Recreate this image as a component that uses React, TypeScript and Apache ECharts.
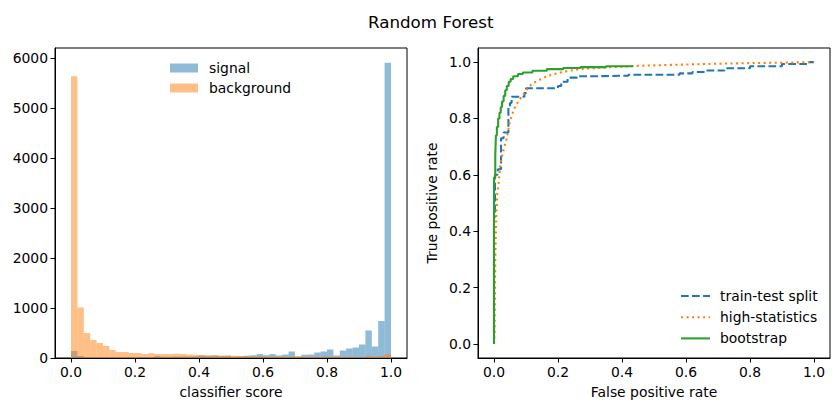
import React, { useEffect, useRef } from 'react';
import * as echarts from 'echarts';

const FONT = '"DejaVu Sans", sans-serif';

// histogram: 50 bins on [0, 1]
const binCount = 50;
const binEdges = Array.from({ length: binCount + 1 }, (_, i) => i / binCount);
const signalCounts = [
  140, 40, 20, 15, 15, 15, 15, 15, 15, 20,
  20, 20, 20, 40, 25, 25, 30, 30, 30, 35,
  50, 40, 50, 40, 45, 30, 35, 45, 55, 80,
  55, 80, 50, 70, 130, 30, 65, 70, 110, 130,
  170, 50, 150, 190, 210, 270, 550, 230, 740, 5900,
];
const backgroundCounts = [
  5630, 1010, 500, 360, 300, 240, 160, 120, 120, 100,
  100, 80, 95, 80, 80, 80, 85, 80, 70, 65,
  60, 55, 55, 50, 50, 45, 40, 40, 35, 35,
  30, 30, 30, 30, 30, 35, 25, 25, 25, 30,
  25, 25, 25, 25, 25, 20, 45, 25, 40, 80,
];
const countTicks = [0, 1000, 2000, 3000, 4000, 5000, 6000];
const unitTicks = [0, 0.2, 0.4, 0.6, 0.8, 1.0];

// ROC curves
const trainTestFpr = [0, 0, 0.003, 0.003, 0.012, 0.012, 0.022, 0.022, 0.03, 0.03, 0.045, 0.045, 0.05, 0.05, 0.055, 0.055, 0.095, 0.095, 0.1, 0.1, 0.2, 0.2, 0.21, 0.21, 0.23, 0.23, 0.26, 0.26, 0.33, 0.33, 0.42, 0.42, 0.58, 0.58, 0.62, 0.62, 0.66, 0.66, 0.72, 0.72, 0.8, 0.8, 0.9, 0.9, 0.98, 0.98, 1.0];
const trainTestTpr = [0, 0.45, 0.45, 0.6, 0.6, 0.62, 0.62, 0.73, 0.73, 0.75, 0.75, 0.84, 0.84, 0.855, 0.855, 0.877, 0.877, 0.89, 0.89, 0.907, 0.907, 0.915, 0.915, 0.93, 0.93, 0.945, 0.945, 0.95, 0.95, 0.952, 0.952, 0.955, 0.955, 0.96, 0.96, 0.965, 0.965, 0.97, 0.97, 0.978, 0.978, 0.985, 0.985, 0.993, 0.993, 1.0, 1.0];

const highStatsFpr = [0, 0.002, 0.004, 0.007, 0.01, 0.017, 0.02, 0.03, 0.04, 0.05, 0.06, 0.07, 0.09, 0.11, 0.13, 0.165, 0.217, 0.27, 0.35, 0.43, 0.55, 0.73, 0.9, 1.0];
const highStatsTpr = [0, 0.05, 0.3, 0.45, 0.53, 0.6, 0.64, 0.69, 0.73, 0.79, 0.825, 0.85, 0.883, 0.914, 0.93, 0.95, 0.966, 0.975, 0.981, 0.986, 0.99, 0.995, 0.998, 1.0];

const bootstrapFpr = [0, 0, 0.004, 0.004, 0.006, 0.006, 0.009, 0.009, 0.013, 0.013, 0.017, 0.017, 0.021, 0.021, 0.025, 0.025, 0.03, 0.03, 0.035, 0.035, 0.04, 0.04, 0.046, 0.046, 0.052, 0.052, 0.06, 0.06, 0.075, 0.075, 0.09, 0.09, 0.12, 0.12, 0.165, 0.165, 0.216, 0.216, 0.27, 0.27, 0.35, 0.35, 0.435];
const bootstrapTpr = [0, 0.59, 0.59, 0.67, 0.67, 0.74, 0.74, 0.77, 0.77, 0.8, 0.8, 0.82, 0.82, 0.84, 0.84, 0.86, 0.86, 0.88, 0.88, 0.9, 0.9, 0.915, 0.915, 0.93, 0.93, 0.94, 0.94, 0.95, 0.95, 0.958, 0.958, 0.963, 0.963, 0.969, 0.969, 0.975, 0.975, 0.979, 0.979, 0.982, 0.982, 0.985, 0.985];

const BLUE = '#1f77b4';
const ORANGE = '#ff7f0e';
const GREEN = '#2ca02c';
const BLUE_A = 'rgba(31,119,180,0.5)';
const ORANGE_A = 'rgba(255,127,14,0.5)';
const LW = 2.08;
const DASH = [7.7, 3.33];
const DOT = [2.08, 3.44];

const zip = (a: number[], b: number[]) => a.map((v, i) => [v, b[i]]);

const renderBin = (fill: string) => (params: any, api: any) => {
  const x0 = api.value(0);
  const x1 = api.value(1);
  const h = api.value(2);
  const a = api.coord([x0, h]);
  const b = api.coord([x1, 0]);
  return {
    type: 'rect',
    shape: { x: a[0], y: a[1], width: b[0] - a[0], height: b[1] - a[1] },
    style: { fill },
  };
};

const tickLabelStyle = { fontSize: 13.9, fontFamily: FONT, color: '#000' };
const nameStyle = { fontSize: 13.9, fontFamily: FONT, color: '#000' };

const makeAxis = (gridIndex: number, min: number, max: number, ticks: number[], fmt: (v: number) => string, name: string, nameGap: number) => ({
  gridIndex,
  type: 'value',
  min,
  max,
  name,
  nameLocation: 'middle',
  nameGap,
  nameTextStyle: nameStyle,
  axisLine: { show: true, onZero: false, lineStyle: { color: '#000', width: 1 } },
  axisTick: { show: true, inside: false, length: 4.5, customValues: ticks, lineStyle: { color: '#000', width: 1 } },
  axisLabel: { show: true, customValues: ticks, formatter: fmt, margin: 7, ...tickLabelStyle },
  splitLine: { show: false },
});

// right-hand legend entries (drawn as graphics so the dash patterns show)
const rocLegend = [
  { name: 'train-test split', color: BLUE, dash: DASH },
  { name: 'high-statistics', color: ORANGE, dash: DOT },
  { name: 'bootstrap', color: GREEN, dash: null as number[] | null },
];

export default function App() {
  const ref = useRef<HTMLDivElement>(null);
  useEffect(() => {
    document.body.style.margin = '0';
    if (!ref.current) return;
    const chart = echarts.init(ref.current, undefined, { renderer: 'svg' });
    const f1 = (v: number) => v.toFixed(1);
    const f0 = (v: number) => String(Math.round(v));
    const legendGraphics: any[] = [];
    rocLegend.forEach((e, i) => {
      const y = 296 + i * 21.2;
      legendGraphics.push({
        type: 'line',
        shape: { x1: 681, y1: y, x2: 710, y2: y },
        style: { stroke: e.color, lineWidth: LW, lineDash: e.dash || undefined },
        silent: true,
      });
      legendGraphics.push({
        type: 'text',
        x: 720,
        y,
        style: { text: e.name, fill: '#000', fontSize: 13.9, fontFamily: FONT, verticalAlign: 'middle', align: 'left' },
        silent: true,
      });
    });
    chart.setOption({
      animation: false,
      backgroundColor: '#fff',
      title: {
        text: 'Random Forest',
        left: 363,
        top: 8,
        textStyle: { fontSize: 16.7, fontWeight: 'normal', fontFamily: FONT, color: '#000' },
      },
      grid: [
        { left: 55, top: 48, width: 352, height: 310, show: true, borderColor: '#000', borderWidth: 1, backgroundColor: 'transparent' },
        { left: 478, top: 48, width: 352, height: 310, show: true, borderColor: '#000', borderWidth: 1, backgroundColor: 'transparent' },
      ],
      xAxis: [
        makeAxis(0, -0.05, 1.05, unitTicks, f1, 'classifier score', 27),
        makeAxis(1, -0.05, 1.05, unitTicks, f1, 'False positive rate', 27),
      ],
      yAxis: [
        makeAxis(0, 0, 6195, countTicks, f0, '', 40),
        makeAxis(1, -0.05, 1.05, unitTicks, f1, 'True positive rate', 39),
      ],
      legend: [
        {
          data: ['signal', 'background'],
          orient: 'vertical',
          left: 170,
          top: 61,
          padding: 0,
          itemWidth: 28,
          itemHeight: 9,
          itemGap: 6,
          icon: 'rect',
          selectedMode: false,
          textStyle: { ...tickLabelStyle, padding: [0, 0, 0, 6] },
        },
      ],
      graphic: legendGraphics,
      series: [
        {
          name: 'signal',
          type: 'custom',
          xAxisIndex: 0,
          yAxisIndex: 0,
          renderItem: renderBin(BLUE_A),
          itemStyle: { color: BLUE_A },
          encode: { x: [0, 1], y: 2 },
          data: signalCounts.map((c, i) => [binEdges[i], binEdges[i + 1], c]),
        },
        {
          name: 'background',
          type: 'custom',
          xAxisIndex: 0,
          yAxisIndex: 0,
          renderItem: renderBin(ORANGE_A),
          itemStyle: { color: ORANGE_A },
          encode: { x: [0, 1], y: 2 },
          data: backgroundCounts.map((c, i) => [binEdges[i], binEdges[i + 1], c]),
        },
        {
          name: 'train-test split',
          type: 'line',
          xAxisIndex: 1,
          yAxisIndex: 1,
          showSymbol: false,
          symbol: 'none',
          color: BLUE,
          lineStyle: { color: BLUE, width: LW, type: DASH },
          data: zip(trainTestFpr, trainTestTpr),
        },
        {
          name: 'high-statistics',
          type: 'line',
          xAxisIndex: 1,
          yAxisIndex: 1,
          showSymbol: false,
          symbol: 'none',
          color: ORANGE,
          lineStyle: { color: ORANGE, width: LW, type: DOT },
          data: zip(highStatsFpr, highStatsTpr),
        },
        {
          name: 'bootstrap',
          type: 'line',
          xAxisIndex: 1,
          yAxisIndex: 1,
          showSymbol: false,
          symbol: 'none',
          color: GREEN,
          lineStyle: { color: GREEN, width: LW },
          data: zip(bootstrapFpr, bootstrapTpr),
        },
      ],
    });
    return () => chart.dispose();
  }, []);
  return <div ref={ref} style={{ width: 839, height: 411 }} />;
}
